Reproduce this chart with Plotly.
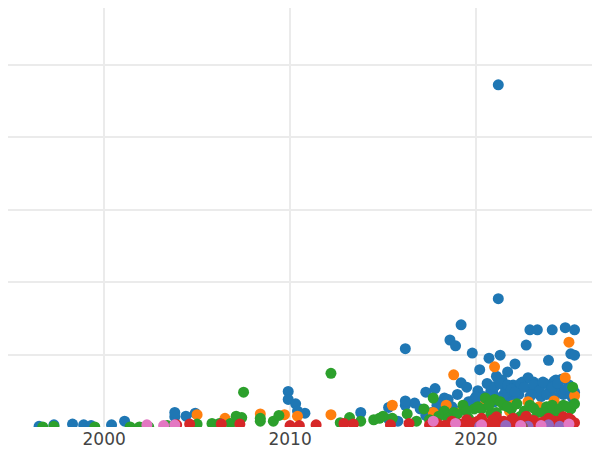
import plotly.graph_objects as go

# (year, value) per group
blue_x = [1996.5, 1997.3, 1998.3, 1998.9, 1999.3, 2000.4, 2001.1, 2003.8, 2003.8, 2004.4, 2004.9,
          2009.9, 2009.9, 2010.3, 2010.4, 2010.8, 2013.8, 2015.3, 2015.3, 2015.8, 2016.2, 2016.2,
          2016.7, 2017.3, 2017.3, 2017.8, 2018.2, 2018.6, 2018.9, 2019.2, 2019.2, 2019.8, 2020.2,
          2020.7, 2021.2, 2021.2, 2021.3, 2021.7, 2022.1, 2022.7, 2022.9, 2023.3, 2023.9, 2024.1,
          2024.8, 2025.3, 2025.1, 2025.3, 2024.9, 2024.2,
          2017.9, 2018.3, 2018.7, 2019.0, 2019.5, 2019.9, 2020.1, 2020.4, 2020.6, 2020.9, 2021.0,
          2021.4, 2021.6, 2021.8, 2022.0, 2022.3, 2022.5, 2022.8, 2023.0, 2023.2, 2023.5, 2023.7,
          2024.0, 2024.3, 2024.5, 2024.7, 2025.0, 2025.2, 2021.1, 2021.5, 2022.2, 2023.1, 2023.9, 2024.6,
          2020.8, 2021.0, 2021.3, 2021.5, 2021.7, 2021.9, 2022.1, 2022.4, 2022.6, 2022.9, 2023.1,
          2023.4, 2023.6, 2023.8, 2024.1, 2024.4, 2024.8, 2025.1, 2019.6, 2020.0, 2020.3, 2018.5,
          2019.1, 2021.2, 2022.0, 2023.0, 2024.2, 2025.3, 2016.2, 2017.0, 2017.6, 2018.0]
blue_y = [1, 3, 4, 3, 2, 3, 8, 14, 20, 15, 19,
          49, 38, 32, 22, 19, 20, 27, 11, 8, 108, 30,
          33, 16, 48, 53, 25, 120, 112, 141, 61, 102, 79,
          95, 472, 177, 99, 76, 87, 113, 134, 134, 92, 134,
          137, 134, 101, 99, 83, 63,
          30, 40, 28, 45, 55, 38, 50, 42, 60, 48, 35,
          65, 52, 40, 58, 45, 62, 68, 50, 55, 42, 60,
          48, 65, 52, 45, 58, 40, 70, 38, 55, 62, 47, 66,
          50, 56, 60, 45, 58, 52, 48, 60, 55, 42, 58,
          50, 62, 45, 55, 60, 52, 44, 35, 42, 30, 38,
          22, 40, 35, 45, 40, 48, 36, 25, 20, 33]
orange_x = [2005.0, 2006.5, 2008.4, 2009.7, 2010.4, 2012.2, 2015.5, 2017.7, 2018.4, 2018.8, 2021.0,
            2022.8, 2025.0, 2024.8, 2025.3, 2019.3, 2020.5, 2021.8, 2023.4, 2024.2, 2018.9, 2022.0]
orange_y = [17, 12, 18, 17, 15, 17, 30, 20, 30, 72, 83,
            35, 117, 68, 43, 25, 32, 22, 28, 36, 18, 30]
green_x = [1996.7, 1997.3, 1999.5, 2001.4, 2001.9, 2002.4, 2003.4, 2005.0, 2005.8, 2006.2, 2006.8,
           2007.1, 2007.4, 2007.5, 2008.4, 2008.4, 2009.1, 2009.4, 2012.2, 2012.7, 2013.2, 2013.8,
           2014.5, 2015.0, 2015.5, 2016.3, 2017.2, 2017.7, 2018.3, 2019.3, 2019.9, 2020.5, 2021.0,
           2021.5, 2025.2, 2018.0, 2018.8, 2019.6, 2020.1, 2020.8, 2021.3, 2021.9, 2022.4, 2022.9,
           2023.3, 2023.8, 2024.3, 2024.7, 2025.1, 2022.0, 2023.0, 2024.0, 2016.8, 2014.8,
           2019.0, 2019.5, 2020.3, 2020.7, 2021.1, 2021.7, 2022.2, 2022.6, 2023.1, 2023.6, 2024.1,
           2024.5, 2024.9, 2025.3, 2018.5, 2017.5]
green_y = [0, 1, 0, 0, 0, 0, 2, 4, 5, 5, 5,
           15, 13, 48, 12, 8, 8, 16, 74, 6, 13, 8,
           10, 15, 12, 18, 25, 40, 22, 30, 25, 40, 38,
           30, 55, 15, 20, 12, 28, 18, 35, 25, 15, 30,
           20, 28, 18, 30, 25, 12, 10, 22, 8, 12,
           18, 22, 25, 30, 20, 28, 32, 22, 26, 20, 30,
           25, 28, 32, 12, 10]
red_x = [2003.9, 2004.6, 2006.3, 2007.3, 2010.0, 2010.5, 2011.4, 2012.9, 2013.4, 2015.4, 2016.4,
         2017.5, 2017.9, 2018.3, 2018.7, 2019.1, 2019.5, 2019.9, 2020.3, 2020.7, 2021.1, 2021.5,
         2021.9, 2022.3, 2022.7, 2023.1, 2023.5, 2023.9, 2024.3, 2024.7, 2025.1, 2025.3, 2018.1,
         2019.3, 2020.5, 2021.3, 2022.1, 2023.3, 2024.5, 2025.0,
         2019.7, 2020.1, 2020.9, 2021.7, 2022.5, 2022.9, 2023.7, 2024.1, 2024.9, 2018.5, 2021.0,
         2022.0, 2023.0, 2024.0]
red_y = [3, 4, 4, 4, 2, 2, 3, 5, 4, 3, 5,
         3, 5, 2, 8, 4, 10, 6, 12, 5, 14, 8,
         10, 4, 15, 9, 6, 12, 8, 14, 10, 6, 1,
         2, 3, 1, 5, 2, 3, 12,
         3, 8, 10, 6, 9, 4, 8, 3, 7, 2, 4,
         12, 3, 10]
purple_x = [2020.2, 2021.6, 2022.8, 2023.9, 2024.5]
purple_y = [1, 2, 1, 3, 1]
brown_x = [2022.5]
brown_y = [0]
pink_x = [2002.3, 2003.2, 2003.8, 2017.7, 2018.9, 2020.3, 2022.4, 2023.5, 2025.0]
pink_y = [3, 2, 3, 8, 5, 3, 2, 2, 4]

groups = [
    (blue_x, blue_y, "#1f77b4"),
    (orange_x, orange_y, "#ff7f0e"),
    (green_x, green_y, "#2ca02c"),
    (red_x, red_y, "#d62728"),
    (purple_x, purple_y, "#9467bd"),
    (brown_x, brown_y, "#8c564b"),
    (pink_x, pink_y, "#e377c2"),
]

fig = go.Figure()
for xs, ys, c in groups:
    fig.add_trace(go.Scatter(x=xs, y=ys, mode="markers",
                             marker=dict(color=c, size=11), cliponaxis=True))

fig.update_layout(
    width=600, height=450, showlegend=False,
    margin=dict(l=0, r=0, t=0, b=31, pad=0),
    plot_bgcolor="white", paper_bgcolor="white",
    font=dict(family="DejaVu Sans", size=17, color="#444"),
)
fig.update_xaxes(range=[1994.83, 2027.1], tickvals=[2000, 2010, 2020],
                 gridcolor="#ebebeb", gridwidth=2, zeroline=False)
fig.update_yaxes(range=[0, 578], dtick=100, showticklabels=False,
                 gridcolor="#ebebeb", gridwidth=2, zeroline=False)
fig.write_html("out.html")
